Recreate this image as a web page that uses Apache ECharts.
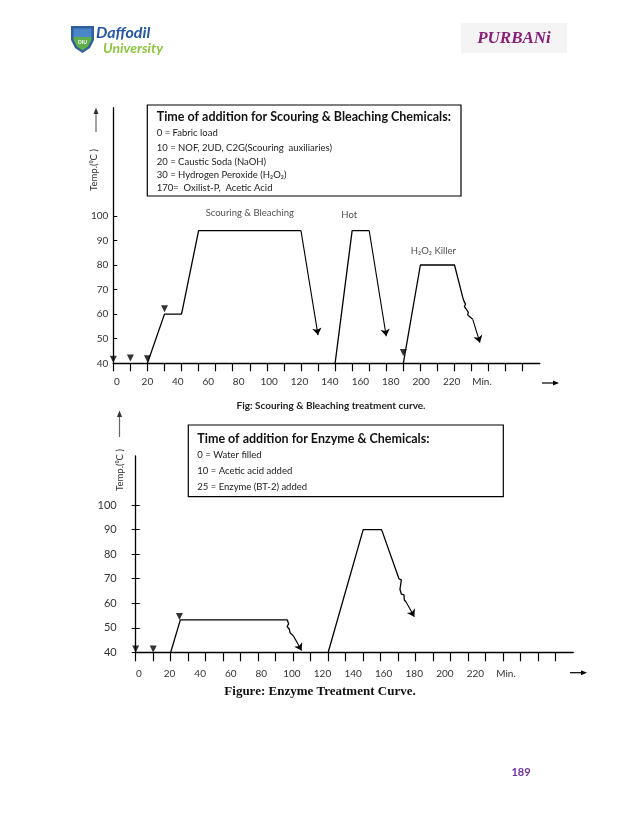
<!DOCTYPE html>
<html><head><meta charset="utf-8">
<script src="https://cdn.jsdelivr.net/npm/echarts@6/dist/echarts.min.js"></script>
<style>html,body{margin:0;padding:0;background:#fff}#c{width:638px;height:826px}</style>
</head><body><div id="c"></div>
<script>
// ---------------- DATA ----------------
const tickLabels1 = ['0','20','40','60','80','100','120','140','160','180','200','220','Min.'];
const tickLabels2 = ['0','20','40','60','80','100','120','140','160','180','200','220','Min.'];
const xTicks = [0,10,20,30,40,50,60,70,80,90,100,110,120,130,140,150,160,170,180,190,200,210,220,230,240];
const yTicks = [40,50,60,70,80,90,100];

// Scouring & Bleaching chart (minutes, temperature)
const scourPath  = [[20,40],[30,60],[40,60],[50,94],[110,94]];
const scourArrow = [[110,94],[120,51.5]];
const hotPath    = [[130,40],[140,94],[150,94]];
const hotArrow   = [[150,94],[160,51]];
const killerPath = [[170,40],[180,80],[200,80],[204.8,66.9],[203.8,66.2],[205.6,65.2],[206.5,64.1],[205.8,63.1],[207.1,61.8],[208.1,60.7],[207.7,59.7],[209.1,58.8],[210.7,57.9]];
const killerArrow = [[210.7,57.9],[214.9,48.4]];
const additions1 = [[0,41.6],[10,42.2],[20,41.9],[30,62.2],[170,44.4]];
const stageNames1 = ['Scouring & Bleaching','Hot','H\u2082O\u2082 Killer'];
const stagePos1 = [[80,101],[138.3,100.5],[187.6,85.8]];

// Enzyme chart
const enzymePath  = [[20,40],[25.5,53.2],[86.6,53.2],[87.4,51.6],[86.5,50.5],[87.8,49.4],[88.2,48.0],[89.3,47.5],[90.1,46.7]];
const enzymeArrow = [[90.1,46.7],[94.8,40.7]];
const inactPath   = [[110,40],[130,90],[140.5,90],[150.5,69.9],[151.8,69.5],[151.4,67.5],[151.0,65.7],[151.8,63.7],[153.3,63.4],[153.5,61.3],[154.5,60.5]];
const inactArrow  = [[154.5,60.5],[159.2,54.5]];
const additions2 = [[0,41.3],[10,41.3],[25,54.6]];

// Texts
const legend1Title = 'Time of addition for Scouring & Bleaching Chemicals:';
const legend1Lines = ['0 = Fabric load','10 = NOF, 2UD, C2G(Scouring  auxiliaries)','20 = Caustic Soda (NaOH)','30 = Hydrogen Peroxide (H\u2082O\u2082)','170=  Oxilist-P,  Acetic Acid'];
const legend2Title = 'Time of addition for Enzyme & Chemicals:';
const legend2Lines = ['0 = Water filled','10 = Acetic acid added','25 = Enzyme (BT-2) added'];
const caption1 = 'Fig: Scouring & Bleaching treatment curve.';
const caption2 = 'Figure: Enzyme Treatment Curve.';
const yTitle = 'Temp.(\u2070C )';
const pageNo = '189';

// ---------------- CHART ----------------
const F = 'Lato, "Open Sans", sans-serif';
const black = '#000';
const chart = echarts.init(document.getElementById('c'), null, {renderer:'canvas'});

function lineSeries(data, xi, yi){
  return {type:'line', xAxisIndex:xi, yAxisIndex:yi, data:data, symbol:'none', showSymbol:false,
    lineStyle:{color:black, width:1.3}, silent:true, animation:false, z:3};
}
function arrowSeries(segs, xi, yi){
  return {type:'lines', coordinateSystem:'cartesian2d', xAxisIndex:xi, yAxisIndex:yi,
    data:segs.map(s=>({coords:s})), symbol:['none','arrow'], symbolSize:7,
    lineStyle:{color:black, width:1.1, opacity:1, curveness:0}, silent:true, animation:false, z:3};
}
function markerSeries(data, xi, yi){
  return {type:'scatter', xAxisIndex:xi, yAxisIndex:yi, data:data, symbol:'triangle', symbolRotate:180,
    symbolSize:[7,7], itemStyle:{color:black}, silent:true, animation:false, z:4};
}

const valueX = (gi, len) => ({type:'value', gridIndex:gi, min:0, max:250,
  axisLine:{show:true, onZero:false, lineStyle:{color:black, width:1.4}},
  axisTick:{show:true, length:len, customValues:xTicks, lineStyle:{color:black, width:1.2}},
  axisLabel:{show:false}, splitLine:{show:false}});
const labelX = (gi, labels) => ({type:'category', gridIndex:gi, data:labels, boundaryGap:false,
  axisLine:{show:false}, axisTick:{show:false}, splitLine:{show:false},
  axisLabel:{interval:0, fontSize:10, color:'#333', fontFamily:F, margin:8}});
const dummyY = gi => ({type:'value', gridIndex:gi, show:false});

const option = {
  animation:false,
  backgroundColor:'#fff',
  grid:[
    {left:113.3, top:107.7, width:426.5, height:255.6},
    {left:117, top:300, width:365, height:69},
    {left:135.7, top:456, width:437.5, height:196.3},
    {left:139, top:600, width:367, height:60.5}
  ],
  xAxis:[ valueX(0,8), labelX(1,tickLabels1), valueX(2,9), labelX(3,tickLabels2) ],
  yAxis:[
    {type:'value', gridIndex:0, min:40, max:144, position:'left',
     axisLine:{show:true, onZero:false, lineStyle:{color:black, width:1.3}},
     axisTick:{show:true, inside:true, length:4, customValues:yTicks, lineStyle:{color:black}},
     axisLabel:{customValues:yTicks, margin:5, fontSize:10, color:'#333', fontFamily:F},
     splitLine:{show:false}},
    dummyY(1),
    {type:'value', gridIndex:2, min:40, max:120, position:'left', offset:0,
     axisLine:{show:true, onZero:false, lineStyle:{color:black, width:1.3}},
     axisTick:{show:true, length:4, customValues:yTicks, lineStyle:{color:black}},
     axisLabel:{customValues:yTicks, margin:19, fontSize:11, color:'#333', fontFamily:F},
     splitLine:{show:false}},
    dummyY(3),
    {type:'value', gridIndex:2, min:40, max:120, position:'left', offset:0,
     axisLine:{show:false},
     axisTick:{show:true, inside:true, length:4, customValues:yTicks, lineStyle:{color:black}},
     axisLabel:{show:false}, splitLine:{show:false}}
  ],
  series:[
    lineSeries(scourPath,0,0), lineSeries(hotPath,0,0), lineSeries(killerPath,0,0),
    arrowSeries([scourArrow,hotArrow,killerArrow],0,0),
    markerSeries(additions1,0,0),
    {type:'scatter', xAxisIndex:0, yAxisIndex:0, symbolSize:0, silent:true,
     data:stageNames1.map((n,i)=>({name:n, value:stagePos1[i]})),
     label:{show:true, position:'inside', formatter:p=>p.name, fontSize:9.5, color:'#222', fontFamily:F}},
    lineSeries(enzymePath,2,2), lineSeries(inactPath,2,2),
    arrowSeries([enzymeArrow,inactArrow],2,2),
    markerSeries(additions2,2,2)
  ],
  graphic:[
    // Daffodil logo
    {type:'polygon', shape:{points:[[71,26],[94,26],[94,40],[90,48],[82.5,53],[75,48],[71,40]]}, style:{fill:'#2f5f9e'}},
    {type:'polygon', shape:{points:[[73.5,37],[91.5,37],[91.5,40],[88,46.5],[82.5,50.5],[77,46.5],[73.5,40]]}, style:{fill:'#5fae4a'}},
    {type:'polygon', shape:{points:[[73.5,28.5],[91.5,28.5],[91.5,37],[73.5,37]]}, style:{fill:'#4a86c8'}},
    {type:'text', style:{x:82.5, y:42.5, text:'DIU', fill:'#fff', font:'bold 5px '+F, align:'center', verticalAlign:'middle'}},
    {type:'text', style:{x:96, y:33, text:'Daffodil', fill:'#2657a5', font:'italic bold 16px '+F, verticalAlign:'middle'}},
    {type:'text', style:{x:103, y:48, text:'University', fill:'#8dc63f', font:'italic bold 14px '+F, verticalAlign:'middle'}},
    // Purbani logo
    {type:'rect', shape:{x:461, y:23, width:106, height:30}, style:{fill:'#f4f4f4'}},
    {type:'text', style:{x:514, y:39, text:'PURBANi', fill:'#8a1f7a', font:'italic bold 17px "Liberation Serif", serif', align:'center', verticalAlign:'middle'}},
    // Legend box 1
    {type:'rect', shape:{x:147.3, y:105, width:313.7, height:91}, style:{fill:'#fff', stroke:black, lineWidth:1.2}, z:10},
    {type:'text', z:11, style:{x:156.7, y:117, text:legend1Title, fill:'#111', font:'bold 12.5px '+F, verticalAlign:'middle'}},
    ...legend1Lines.map((t,i)=>({type:'text', z:11, style:{x:156.7, y:[133,147.5,162,175,187.5][i], text:t, fill:'#222', font:'9.5px '+F, verticalAlign:'middle'}})),
    // Legend box 2
    {type:'rect', shape:{x:188.3, y:425, width:315, height:71.7}, style:{fill:'#fff', stroke:black, lineWidth:1.2}, z:10},
    {type:'text', z:11, style:{x:197.3, y:439, text:legend2Title, fill:'#111', font:'bold 12.5px '+F, verticalAlign:'middle'}},
    ...legend2Lines.map((t,i)=>({type:'text', z:11, style:{x:197.3, y:[455,471,486.5][i], text:t, fill:'#222', font:'9.5px '+F, verticalAlign:'middle'}})),
    // Y titles with arrows
    {type:'text', x:94, y:170, rotation:Math.PI/2, style:{x:0, y:0, text:yTitle, fill:'#333', font:'9.5px '+F, align:'center', verticalAlign:'middle'}},
    {type:'line', shape:{x1:96, y1:113, x2:96, y2:132}, style:{stroke:'#666', lineWidth:1.2}},
    {type:'polygon', shape:{points:[[96,107.5],[93.5,114],[98.5,114]]}, style:{fill:'#333'}},
    {type:'text', x:120, y:470, rotation:Math.PI/2, style:{x:0, y:0, text:yTitle, fill:'#333', font:'9.5px '+F, align:'center', verticalAlign:'middle'}},
    {type:'line', shape:{x1:119.5, y1:416, x2:119.5, y2:437}, style:{stroke:'#666', lineWidth:1.2}},
    {type:'polygon', shape:{points:[[119.5,410.5],[117,417],[122,417]]}, style:{fill:'#333'}},
    // X direction arrows
    {type:'line', shape:{x1:542, y1:383, x2:554, y2:383}, style:{stroke:black, lineWidth:1.2}},
    {type:'polygon', shape:{points:[[559,383],[553,380.5],[553,385.5]]}, style:{fill:black}},
    {type:'line', shape:{x1:570, y1:672.7, x2:582, y2:672.7}, style:{stroke:black, lineWidth:1.2}},
    {type:'polygon', shape:{points:[[587,672.7],[581,670.2],[581,675.2]]}, style:{fill:black}},
    // Captions
    {type:'text', style:{x:331, y:405.7, text:caption1, fill:'#222', font:'bold 10px '+F, align:'center', verticalAlign:'middle'}},
    {type:'text', style:{x:320, y:691.7, text:caption2, fill:'#111', font:'bold 13px "Liberation Serif", "Times New Roman", serif', align:'center', verticalAlign:'middle'}},
    // Page number
    {type:'text', style:{x:521, y:772, text:pageNo, fill:'#7030a0', font:'bold 11px '+F, align:'center', verticalAlign:'middle'}}
  ]
};
chart.setOption(option);
</script>
</body></html>
